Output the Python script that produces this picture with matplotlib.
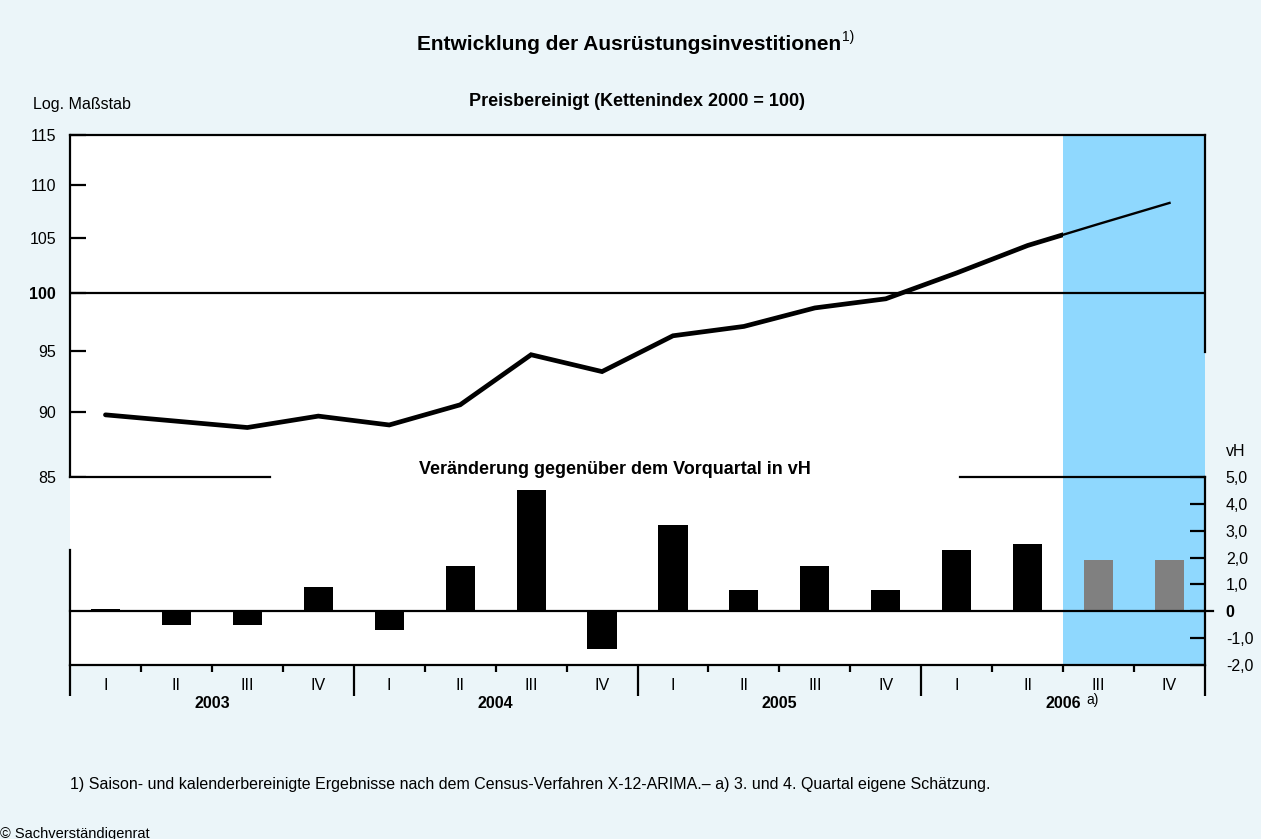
import matplotlib
matplotlib.use("Agg")
import matplotlib.pyplot as plt
from matplotlib.patches import Rectangle
from matplotlib.ticker import NullLocator, FixedLocator

plt.rcParams['font.family'] = ['Liberation Sans', 'DejaVu Sans']

# ---------------- data ----------------
quarters = ["I", "II", "III", "IV"] * 4
years = ["2003", "2004", "2005", "2006"]
index_values = [89.8, 89.3, 88.8, 89.7, 89.0, 90.6, 94.7, 93.3,
                96.3, 97.1, 98.7, 99.5, 101.8, 104.3, 106.3, 108.3]
change_values = [0.1, -0.5, -0.5, 0.9, -0.7, 1.7, 4.5, -1.4,
                 3.2, 0.8, 1.7, 0.8, 2.3, 2.5, 1.9, 1.9]
n_actual = 14  # quarters before estimate (2006 III, IV are estimates)
left_ticks = [85, 90, 95, 100, 105, 110, 115]
left_labels = ["85", "90", "95", "100", "105", "110", "115"]
right_ticks = [-2, -1, 0, 1, 2, 3, 4, 5]
right_labels = ["-2,0", "-1,0", "0", "1,0", "2,0", "3,0", "4,0", "5,0"]

BG = "#EBF5F9"
SHADE = "#8FD8FE"
W, H = 1261, 839
FS = 11.5

fig = plt.figure(figsize=(W / 100, H / 100), dpi=100, facecolor=BG)

def fx(x):
    return x / W

def fy(y):
    return 1 - y / H

L, R = 70, 1205
ax_top = fig.add_axes([fx(L), fy(477), fx(R - L), (477 - 135) / H])
ax_bot = fig.add_axes([fx(L), fy(665), fx(R - L), (665 - 477) / H])

n = len(index_values)
xc = [i + 0.5 for i in range(n)]
LW = 1.6

# ---------------- top panel ----------------
ax_top.set_facecolor("white")
ax_top.set_xlim(0, n)
ax_top.set_yscale("log")
ax_top.set_ylim(85, 115)
ax_top.axvspan(n_actual, n, color=SHADE, lw=0, zorder=0)
ax_top.axhline(100, color="black", lw=LW, zorder=2)

thick, = ax_top.plot(xc, index_values, color="black", lw=3.4, zorder=4,
                     solid_capstyle="round", solid_joinstyle="miter")
clip_a = Rectangle((0, 80), n_actual, 50, transform=ax_top.transData)
thick.set_clip_path(clip_a)
thin, = ax_top.plot(xc, index_values, color="black", lw=1.7, zorder=3)
clip_b = Rectangle((n_actual, 80), n - n_actual, 50, transform=ax_top.transData)
thin.set_clip_path(clip_b)

for s in ["bottom", "right"]:
    ax_top.spines[s].set_visible(False)
for s in ["top", "left"]:
    ax_top.spines[s].set_linewidth(LW)
ax_top.plot([1, 1], [(477 - 352) / 342, 1], transform=ax_top.transAxes,
            color="black", lw=LW, clip_on=False, zorder=5)

ax_top.yaxis.set_major_locator(FixedLocator(left_ticks))
ax_top.yaxis.set_minor_locator(NullLocator())
ax_top.set_yticklabels(left_labels)
ax_top.tick_params(axis="y", direction="in", length=11.5, width=LW,
                   labelsize=FS, pad=10)
for lab in ax_top.get_yticklabels():
    if lab.get_text() == "100":
        lab.set_fontweight("bold")
ax_top.set_xticks([])

# ---------------- bottom panel ----------------
ax_bot.set_facecolor("white")
ax_bot.set_xlim(0, n)
ax_bot.set_ylim(-2, 5)
ax_bot.axvspan(n_actual, n, color=SHADE, lw=0, zorder=0)
bar_colors = ["black"] * n_actual + ["#808080"] * (n - n_actual)
ax_bot.bar(xc, change_values, width=0.41, color=bar_colors, zorder=3)
ax_bot.plot([0, 1.007], [0, 0], transform=ax_bot.get_yaxis_transform(),
            color="black", lw=LW, clip_on=False, zorder=4)

ax_bot.spines["top"].set_visible(False)
ax_bot.spines["left"].set_visible(False)
ax_bot.spines["bottom"].set_linewidth(LW)
ax_bot.spines["right"].set_linewidth(LW)
ax_bot.plot([0, 0], [0, (665 - 550) / 188], transform=ax_bot.get_xaxis_transform(),
            color="black", lw=LW, clip_on=False, zorder=5)
# top line (85 / 5,0) with gap for the subtitle
for a, b in [(0, (270 - L) / (R - L)), ((960 - L) / (R - L), 1)]:
    ax_bot.plot([a, b], [1, 1], transform=ax_bot.transAxes, color="black",
                lw=LW, clip_on=False, zorder=5)

ax_bot.yaxis.tick_right()
ax_bot.set_yticks(right_ticks)
ax_bot.set_yticklabels(right_labels)
ax_bot.tick_params(axis="y", direction="in", length=11, width=LW,
                   labelsize=FS, pad=15)
for lab in ax_bot.get_yticklabels():
    if lab.get_text() == "0":
        lab.set_fontweight("bold")

ax_bot.set_xticks([0, 4, 8, 12, 16])
ax_bot.set_xticks(list(range(n + 1)), minor=True)
ax_bot.tick_params(axis="x", which="major", direction="out", length=22, width=LW,
                   labelbottom=False)
ax_bot.tick_params(axis="x", which="minor", direction="out", length=5, width=LW,
                   labelbottom=False)

tr = ax_bot.get_xaxis_transform()
for x, q in zip(xc, quarters):
    ax_bot.text(x, -21 / 188, q, transform=tr, ha="center", va="center",
                fontsize=FS)
for k, yr in enumerate(years):
    ax_bot.text(4 * k + 2, -39 / 188, yr, transform=tr, ha="center",
                va="center", fontsize=FS, fontweight="bold")

# ---------------- texts ----------------
fig.text(fx(629), fy(44), "Entwicklung der Ausrüstungsinvestitionen", ha="center",
         va="center", fontsize=15, fontweight="bold")
fig.text(fx(842), fy(37), "1)", ha="left", va="center", fontsize=10)
fig.text(fx(637), fy(101), "Preisbereinigt (Kettenindex 2000 = 100)", ha="center",
         va="center", fontsize=13, fontweight="bold")
fig.text(fx(33), fy(105), "Log. Maßstab", ha="left", va="center", fontsize=FS)
fig.text(fx(615), fy(470), "Veränderung gegenüber dem Vorquartal in vH",
         ha="center", va="center", fontsize=13, fontweight="bold")
fig.text(fx(1226), fy(451), "vH", ha="left", va="center", fontsize=FS)
fig.text(fx(1086), fy(700), "a)", ha="left", va="center", fontsize=10)
fig.text(fx(70), fy(785),
         "1) Saison- und kalenderbereinigte Ergebnisse nach dem Census-Verfahren "
         "X-12-ARIMA.– a) 3. und 4. Quartal eigene Schätzung.",
         ha="left", va="center", fontsize=FS)
fig.text(fx(0), fy(834), "© Sachverständigenrat", ha="left", va="center",
         fontsize=10.5)

fig.savefig("out.png", dpi=100, facecolor=BG)
